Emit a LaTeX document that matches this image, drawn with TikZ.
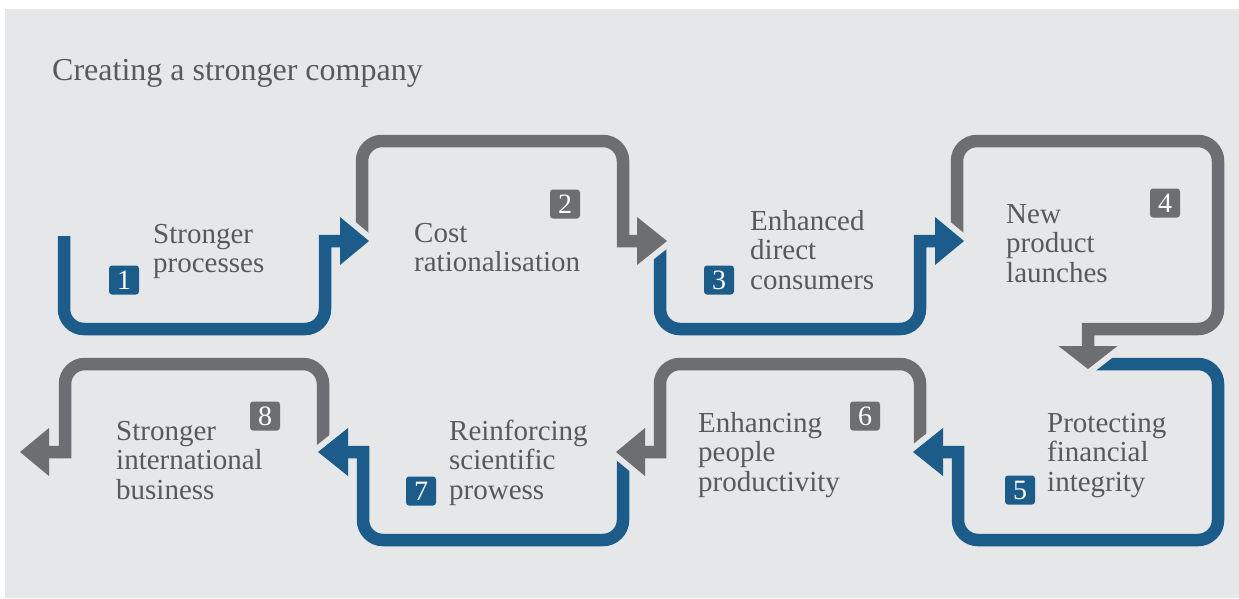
\documentclass[tikz,border=0pt]{standalone}
\usepackage{fontspec}
\setmainfont{Liberation Serif}
\usepackage{tikz}

\definecolor{bggrey}{HTML}{E6E7E8}
\definecolor{barblue}{HTML}{1B5C8B}
\definecolor{bargrey}{HTML}{6D6E71}
\definecolor{txtgrey}{HTML}{58595B}

\begin{document}
\begin{tikzpicture}[x=1pt,y=-1pt]
    \tikzstyle{flow}=[line width=12.5pt, rounded corners=20pt]
    \tikzstyle{blueflow}=[flow, draw=barblue]
    \tikzstyle{greyflow}=[flow, draw=bargrey]
    \tikzstyle{gap}=[draw=bggrey, fill=bggrey, line width=12pt]
    \tikzstyle{stage}=[anchor=base west, align=left, inner sep=0pt, text=txtgrey, font=\fontsize{29}{29.5}\selectfont]
    \tikzstyle{badge}=[minimum width=30pt, minimum height=29pt, inner sep=0pt, rounded corners=3pt, text=white, font=\fontsize{28}{28}\selectfont]

    \useasboundingbox (0,0) rectangle (1239,598);
    \fill[bggrey] (5,9) rectangle (1239,598);

    \node[anchor=base west, inner sep=0pt, text=txtgrey, font=\fontsize{32}{32}\selectfont] (title) at (52,80) {Creating a stronger company};

    % arrow tips
    \coordinate (tip1) at (369,241);
    \coordinate (tip2) at (667,241);
    \coordinate (tip3) at (964,241);
    \coordinate (tip4) at (1088,369);
    \coordinate (tip5) at (913,452);
    \coordinate (tip6) at (616,452);
    \coordinate (tip7) at (318,452);
    \coordinate (tip8) at (20,452);

    % drawn from the last one back, so each head cuts the next bar
    \draw[greyflow] (323,452) -- (323,364) -- (65,364) [sharp corners] -- (65,452) -- (49,452);
    \fill[bargrey] (tip8) -- ++(29,-24) -- ++(0,48) -- cycle;

    \filldraw[gap] (tip7) -- ++(30,-24) -- ++(0,48) -- cycle;
    \draw[blueflow] (623,452) -- (623,540) -- (363,540) [sharp corners] -- (363,452) -- (348,452);
    \fill[barblue] (tip7) -- ++(30,-24) -- ++(0,48) -- cycle;

    \filldraw[gap] (tip6) -- ++(29,-24) -- ++(0,48) -- cycle;
    \draw[greyflow] (920,452) -- (920,364) -- (660,364) [sharp corners] -- (660,452) -- (645,452);
    \fill[bargrey] (tip6) -- ++(29,-24) -- ++(0,48) -- cycle;

    \filldraw[gap] (tip5) -- ++(30,-24) -- ++(0,48) -- cycle;
    \draw[blueflow] (1088,364) -- (1218,364) -- (1218,540) -- (958,540) [sharp corners] -- (958,452) -- (943,452);
    \fill[barblue] (tip5) -- ++(30,-24) -- ++(0,48) -- cycle;

    \filldraw[gap] (tip4) -- ++(-29.5,-23) -- ++(59,0) -- cycle;
    \draw[greyflow] (957,241) -- (957,141) -- (1218,141) -- (1218,329) [sharp corners] -- (1088,329) -- (1088,346);
    \fill[bargrey] (tip4) -- ++(-29.5,-23) -- ++(59,0) -- cycle;

    \filldraw[gap] (tip3) -- ++(-29,-24) -- ++(0,48) -- cycle;
    \draw[blueflow] (660,241) -- (660,329) -- (920,329) [sharp corners] -- (920,241) -- (935,241);
    \fill[barblue] (tip3) -- ++(-29,-24) -- ++(0,48) -- cycle;

    \filldraw[gap] (tip2) -- ++(-30,-24) -- ++(0,48) -- cycle;
    \draw[greyflow] (362,241) -- (362,141) -- (623,141) [sharp corners] -- (623,241) -- (637,241);
    \fill[bargrey] (tip2) -- ++(-30,-24) -- ++(0,48) -- cycle;

    \filldraw[gap] (tip1) -- ++(-29,-24) -- ++(0,48) -- cycle;
    \draw[blueflow] (64,236) -- (64,329) -- (325,329) [sharp corners] -- (325,241) -- (340,241);
    \fill[barblue] (tip1) -- ++(-29,-24) -- ++(0,48) -- cycle;

    % stage texts (placed at the baseline of the last line)
    \node[stage] (s1) at (153,272.5) {Stronger\\processes};
    \node[stage] (s2) at (414,271.5) {Cost\\rationalisation};
    \node[stage] (s3) at (750,289) {Enhanced\\direct\\consumers};
    \node[stage] (s4) at (1006,282) {New\\product\\launches};
    \node[stage] (s5) at (1047,491) {Protecting\\financial\\integrity};
    \node[stage] (s6) at (698,491) {Enhancing\\people\\productivity};
    \node[stage] (s7) at (449,499) {Reinforcing\\scientific\\prowess};
    \node[stage] (s8) at (116,499) {Stronger\\international\\business};

    % numbers
    \node[badge, fill=barblue] (b1) at (124,280) {1};
    \node[badge, fill=bargrey] (b2) at (565,204) {2};
    \node[badge, fill=barblue] (b3) at (719,280) {3};
    \node[badge, fill=bargrey] (b4) at (1165,203) {4};
    \node[badge, fill=barblue] (b5) at (1020,490) {5};
    \node[badge, fill=bargrey] (b6) at (865,416) {6};
    \node[badge, fill=barblue] (b7) at (421,491) {7};
    \node[badge, fill=bargrey] (b8) at (265,416) {8};
\end{tikzpicture}
\end{document}
